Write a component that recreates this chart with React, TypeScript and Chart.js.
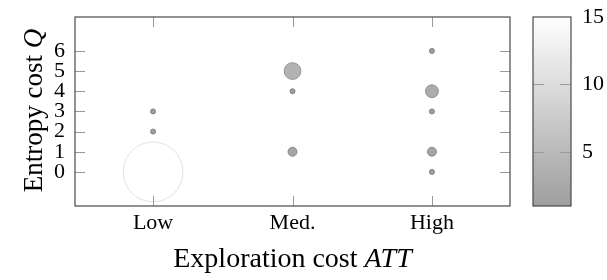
import React, { useEffect, useRef } from 'react';
import { Chart, registerables } from 'chart.js';
Chart.register(...registerables);

const categories = ['Low', 'Med.', 'High'];
const xIndex = [0, 0, 0, 1, 1, 1, 2, 2, 2, 2, 2];
const qValues = [0, 2, 3, 5, 4, 1, 6, 4, 3, 1, 0];
const counts = [15, 1, 1, 4, 1, 2, 1, 3, 1, 2, 1];
const yTicks = [0, 1, 2, 3, 4, 5, 6];
const colorbarTicks = [5, 10, 15];
const colorMin = 1;
const colorMax = 15;
const xTitle = ['Exploration cost ', 'ATT'];
const yTitle = ['Entropy cost ', 'Q'];

const FONT = '"Liberation Serif", "DejaVu Serif", serif';

function grayLevel(v: number) {
  const t = (v - colorMin) / (colorMax - colorMin);
  return Math.round(158 + 97 * t);
}
function fillFor(v: number) {
  const g = grayLevel(v);
  return `rgb(${g},${g},${g})`;
}
function borderFor(v: number) {
  const g = grayLevel(v) - 30;
  return `rgb(${g},${g},${g})`;
}

const decorPlugin = {
  id: 'decor',
  afterDatasetsDraw(chart: any) {
    const ctx = chart.ctx as CanvasRenderingContext2D;
    const { left, right, top, bottom } = chart.chartArea;
    const xs = chart.scales.x;
    const ys = chart.scales.y;
    const cb = chart.scales.cb;
    ctx.save();
    // inner ticks
    ctx.strokeStyle = '#9a9a9a';
    ctx.lineWidth = 1;
    const tl = 10;
    categories.forEach((_, i) => {
      const px = Math.round(xs.getPixelForValue(i)) + 0.5;
      ctx.beginPath();
      ctx.moveTo(px, bottom); ctx.lineTo(px, bottom - tl);
      ctx.moveTo(px, top); ctx.lineTo(px, top + tl);
      ctx.stroke();
    });
    yTicks.forEach((v) => {
      const py = Math.round(ys.getPixelForValue(v)) + 0.5;
      ctx.beginPath();
      ctx.moveTo(left, py); ctx.lineTo(left + tl, py);
      ctx.moveTo(right, py); ctx.lineTo(right - tl, py);
      ctx.stroke();
    });
    // box
    ctx.strokeStyle = '#4a4a4a';
    ctx.lineWidth = 1.2;
    ctx.strokeRect(left, top, right - left, bottom - top);

    // colorbar
    const cx0 = cb.left + 23;
    const cx1 = cb.left + 61;
    const cTop = cb.getPixelForValue(colorMax);
    const cBot = cb.getPixelForValue(colorMin);
    const grad = ctx.createLinearGradient(0, cBot, 0, cTop);
    grad.addColorStop(0, fillFor(colorMin));
    grad.addColorStop(1, fillFor(colorMax));
    ctx.fillStyle = grad;
    ctx.fillRect(cx0, cTop, cx1 - cx0, cBot - cTop);
    ctx.strokeStyle = '#9a9a9a';
    ctx.lineWidth = 1;
    colorbarTicks.forEach((v) => {
      if (v >= colorMax) return;
      const py = Math.round(cb.getPixelForValue(v)) + 0.5;
      ctx.beginPath();
      ctx.moveTo(cx0, py); ctx.lineTo(cx0 + 11, py);
      ctx.moveTo(cx1, py); ctx.lineTo(cx1 - 11, py);
      ctx.stroke();
    });
    ctx.strokeStyle = '#4a4a4a';
    ctx.lineWidth = 1.2;
    ctx.strokeRect(cx0, cTop, cx1 - cx0, cBot - cTop);

    // titles
    ctx.fillStyle = '#000';
    ctx.textBaseline = 'alphabetic';
    const drawMixed = (parts: string[], size: number) => {
      ctx.font = `${size}px ${FONT}`;
      const w0 = ctx.measureText(parts[0]).width;
      ctx.font = `italic ${size}px ${FONT}`;
      const w1 = ctx.measureText(parts[1]).width;
      const total = w0 + w1;
      ctx.textAlign = 'left';
      ctx.font = `${size}px ${FONT}`;
      ctx.fillText(parts[0], -total / 2, 0);
      ctx.font = `italic ${size}px ${FONT}`;
      ctx.fillText(parts[1], -total / 2 + w0, 0);
    };
    ctx.save();
    ctx.translate((left + right) / 2, 267);
    drawMixed(xTitle, 28);
    ctx.restore();
    ctx.save();
    ctx.translate(42, (top + bottom) / 2 - 1);
    ctx.rotate(-Math.PI / 2);
    drawMixed(yTitle, 27);
    ctx.restore();
    ctx.restore();
  },
};

function zeroPad(s: any) {
  s.paddingTop = 0;
  s.paddingBottom = 0;
  s.paddingLeft = 0;
  s.paddingRight = 0;
}

export default function App() {
  const ref = useRef<HTMLCanvasElement | null>(null);
  useEffect(() => {
    document.body.style.margin = '0';
    if (!ref.current) return;
    const data = xIndex.map((x, i) => ({ x, y: qValues[i], r: 0.54 + 1.96 * counts[i] }));
    const tickFont = { family: FONT, size: 22, lineHeight: 1 };
    const hiddenGrid = (len: number) => ({
      display: true,
      drawOnChartArea: false,
      drawTicks: true,
      tickLength: len,
      color: 'rgba(0,0,0,0)',
    });
    const chart = new Chart(ref.current, {
      type: 'bubble',
      data: {
        datasets: [
          {
            data,
            backgroundColor: counts.map(fillFor),
            borderColor: counts.map(borderFor),
            borderWidth: 1,
            clip: false,
          },
        ],
      },
      options: {
        animation: false,
        responsive: false,
        maintainAspectRatio: false,
        layout: { autoPadding: false, padding: { top: 17, left: 0, right: 0, bottom: 0 } },
        plugins: { legend: { display: false }, tooltip: { enabled: false } },
        scales: {
          x: {
            type: 'linear',
            min: -0.56,
            max: 2.56,
            grid: hiddenGrid(0),
            border: { display: false },
            afterBuildTicks: (s: any) => { s.ticks = categories.map((_, i) => ({ value: i })); },
            afterFit: (s: any) => { s.height = 74; zeroPad(s); },
            ticks: {
              maxRotation: 0,
              autoSkip: false,
              padding: 6,
              color: '#000',
              font: tickFont,
              callback: (v: any) => categories[v as number] ?? '',
            },
          },
          y: {
            type: 'linear',
            min: -1.69,
            max: 7.68,
            grid: hiddenGrid(6),
            border: { display: false },
            afterBuildTicks: (s: any) => { s.ticks = yTicks.map((v) => ({ value: v })); },
            afterFit: (s: any) => { s.width = 75; zeroPad(s); },
            ticks: { padding: 4, color: '#000', font: tickFont, autoSkip: false },
          },
          cb: {
            type: 'linear',
            position: 'right',
            min: colorMin,
            max: colorMax,
            grid: hiddenGrid(68),
            border: { display: false },
            afterBuildTicks: (s: any) => { s.ticks = colorbarTicks.map((v) => ({ value: v })); },
            afterFit: (s: any) => { s.width = 97; zeroPad(s); },
            ticks: { padding: 4, color: '#000', font: tickFont, autoSkip: false },
          },
        },
      },
      plugins: [decorPlugin],
    });
    return () => chart.destroy();
  }, []);
  return (
    <div style={{ position: 'absolute', left: 0, top: 0, width: 607, height: 280 }}>
      <canvas ref={ref} width={607} height={280} style={{ width: 607, height: 280 }} />
    </div>
  );
}
